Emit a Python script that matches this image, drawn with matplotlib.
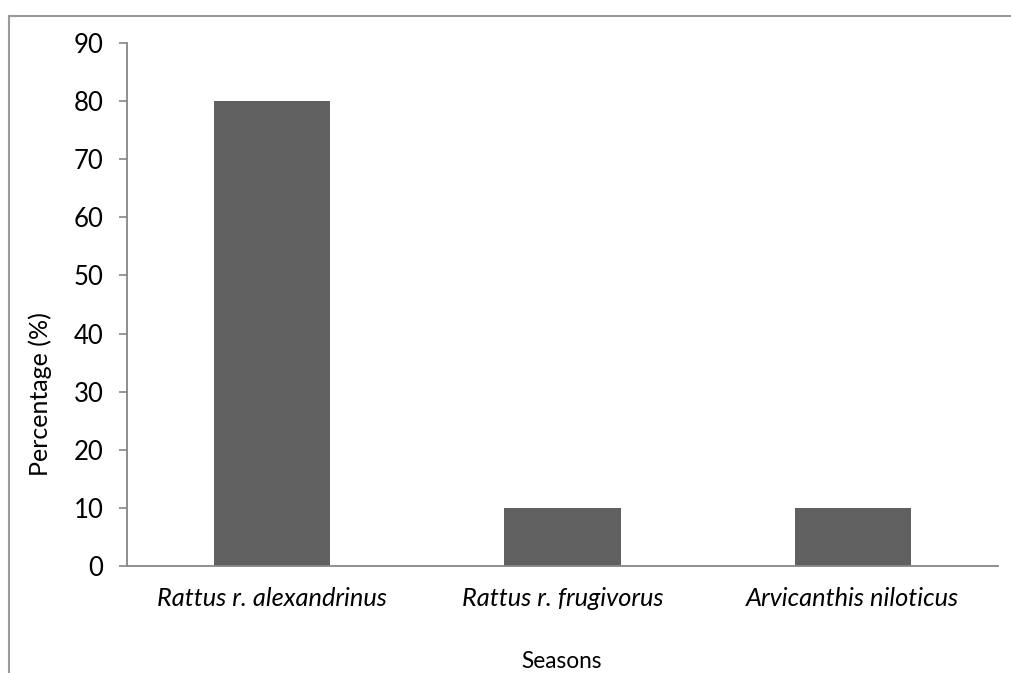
import matplotlib
matplotlib.use('Agg')
import matplotlib.pyplot as plt
from matplotlib.lines import Line2D

# data
species = ['Rattus r. alexandrinus', 'Rattus r. frugivorus', 'Arvicanthis niloticus']
percentages = [80, 10, 10]
y_ticks = [0, 10, 20, 30, 40, 50, 60, 70, 80, 90]

W, H = 1012, 673
plt.rcParams['font.family'] = ['Lato', 'DejaVu Sans']

fig = plt.figure(figsize=(W / 100, H / 100), dpi=100)
ax = fig.add_axes([127 / W, 1 - 566 / H, (998 - 127) / W, (566 - 43) / H])

x = range(len(species))
ax.bar(x, percentages, width=0.4, color='#606060', zorder=2)

ax.set_xlim(-0.5, len(species) - 0.5)
ax.set_ylim(0, 90)
ax.set_yticks(y_ticks)
ax.set_xticks(list(x))
ax.set_xticklabels(species, fontstyle='italic', fontsize=18.3)
ax.tick_params(axis='y', length=6, width=1.2, color='#868686', labelsize=18.5, pad=11)
ax.tick_params(axis='x', length=0, pad=15)

for side in ['top', 'right']:
    ax.spines[side].set_visible(False)
for side in ['left', 'bottom']:
    ax.spines[side].set_color('#868686')
    ax.spines[side].set_linewidth(1.3)

# axis titles, placed where the reference puts them
fig.text(40 / W, 1 - 394 / H, 'Percentage (%)', rotation=90, ha='center', va='center', fontsize=18)
fig.text(562 / W, 1 - 662 / H, 'Seasons', ha='center', va='center', fontsize=16.3)

# chart area border (only left and top edges visible in the crop)
bx, by = 8.5 / W, 1 - 15.5 / H
fig.add_artist(Line2D([bx, bx], [0, by], color='#9a9a9a', lw=1.5, transform=fig.transFigure))
fig.add_artist(Line2D([bx, 1], [by, by], color='#9a9a9a', lw=1.5, transform=fig.transFigure))

fig.savefig('out.png', dpi=100)
